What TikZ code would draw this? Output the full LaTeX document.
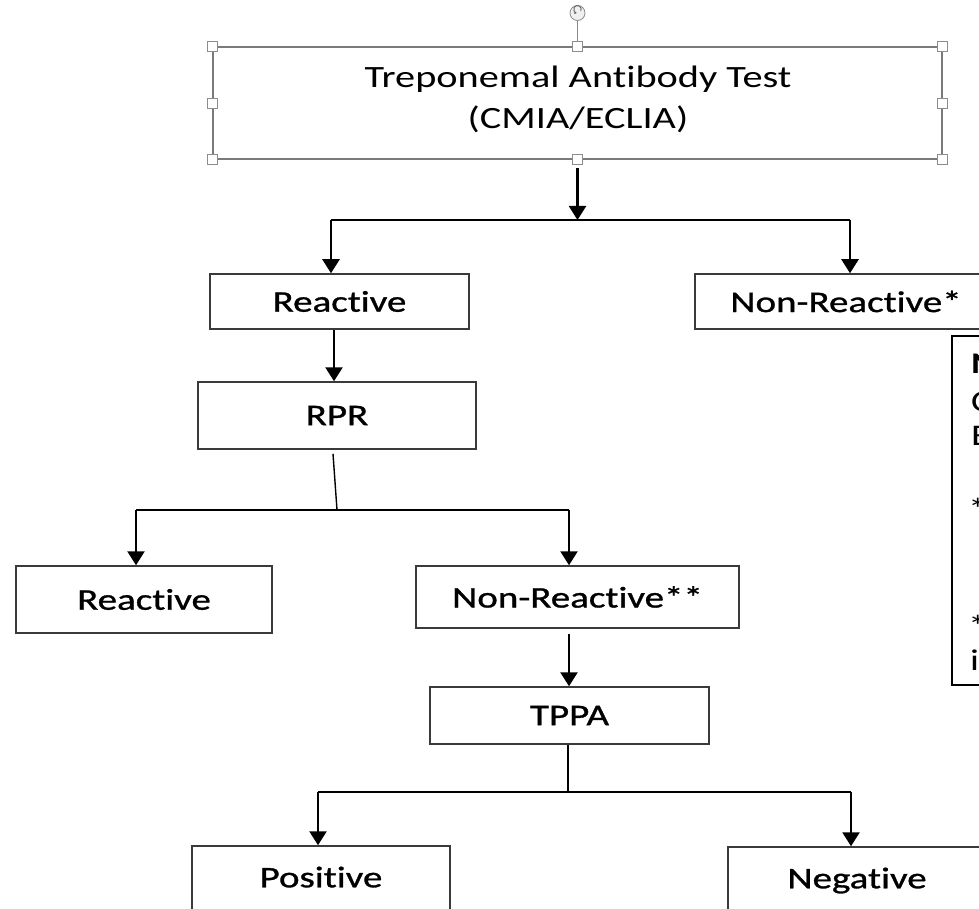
\documentclass[tikz,border=0pt]{standalone}
\usepackage{fontspec}
\setmainfont{Carlito}[FakeStretch=1.3,Ligatures=NoCommon]
\newfontfamily\lblfont{Carlito}[FakeStretch=1.3,FakeBold=1,Ligatures=NoCommon]
\usetikzlibrary{arrows.meta,calc}
\definecolor{boxgray}{HTML}{3A3A3A}
\definecolor{titlegray}{HTML}{7A7A7A}
\definecolor{handlegray}{HTML}{8C8C8C}
\tikzset{
  box/.style={draw=boxgray, line width=1.5pt, fill=white, inner sep=0pt, rectangle,
    font=\lblfont\fontsize{30}{36}\selectfont},
  titlebox/.style={draw=titlegray, line width=1.2pt, inner sep=0pt, rectangle},
  notebox/.style={draw=black, line width=2pt, inner sep=0pt, rectangle},
  notetext/.style={inner sep=0pt, anchor=base west, font=\fontsize{30}{36}\selectfont},
  arr/.style={-{Triangle[width=17pt,length=14pt]}, line width=2.4pt},
  conn/.style={line width=1.4pt},
  handle/.style={draw=handlegray, fill=white, line width=0.8pt, minimum size=10pt, inner sep=0pt, rectangle},
}
\begin{document}
\begin{tikzpicture}[x=1pt,y=-1pt]
\useasboundingbox (0,0) rectangle (979,909);
\clip (0,0) rectangle (979,909);
\fill[white] (0,0) rectangle (979,909);

% title box
\node[titlebox, minimum width=729pt, minimum height=112pt] (title) at (577.5,103) {};
\node[inner sep=0pt, align=center, font=\fontsize{31}{41}\selectfont] (titletext) at (578,99)
  {Treponemal Antibody Test\\(CMIA/ECLIA)};
\foreach \a/\n in {north west/hnw, north/hn, north east/hne, west/hw, east/he, south west/hsw, south/hs, south east/hse}
  \node[handle] (\n) at (title.\a) {};
\node[circle, draw=handlegray, fill=gray!12, line width=0.8pt, minimum size=15pt, inner sep=0pt] (rot) at (577.5,13) {};
\draw[handlegray, line width=0.8pt] (rot.south) -- (hn.north);
\draw[gray!80!black, line width=0.9pt, -{Stealth[length=2.6pt,width=3pt]}] ($(rot.center)+(3.2,-1.8)$) arc[start angle=30, end angle=-260, radius=3.8];

% level 1
\node[box, minimum width=259pt, minimum height=55pt] (r1) at (339.5,301.5) {Reactive};
\node[box, minimum width=302pt, minimum height=55pt] (nr1) at (846,301.5) {Non-Reactive*};
\node[box, minimum width=278pt, minimum height=67pt] (rpr) at (337,415.5) {RPR};

% level 2
\node[box, minimum width=256pt, minimum height=67pt] (r2) at (144,599.5) {Reactive};
\node[box, minimum width=323pt, minimum height=62pt] (nr2) at (577.5,597) {Non-Reactive**};
\node[box, minimum width=279pt, minimum height=57pt] (tppa) at (569.5,715.5) {TPPA};

% level 3
\node[box, minimum width=258pt, minimum height=80pt, text depth=18pt] (pos) at (321,886) {Positive};
\node[box, minimum width=258pt, minimum height=80pt, text depth=18pt] (neg) at (857,887) {Negative};

% notes box (cut at the right edge)
\node[notebox, minimum width=200pt, minimum height=349pt] (notes) at (1052,510.5) {};
\node[notetext, font=\bfseries\fontsize{30}{36}\selectfont] (n1) at (971,373) {N};
\node[notetext] (n2) at (971,411) {C};
\node[notetext] (n3) at (971,445) {E};
\node[notetext] (n4) at (968,519) {*};
\node[notetext] (n5) at (968,636) {*};
\node[notetext] (n6) at (970,670) {i};

% connectors
\coordinate (t0) at (577.5,168);
\coordinate (j1) at (577.5,220);
\coordinate (j1l) at (331,220);
\coordinate (j1r) at (850,220);
\draw[arr] (t0) -- (j1);
\draw[conn] (j1l) -- (j1r);
\draw[arr] (j1l) -- (j1l |- r1.north);
\draw[arr] (j1r) -- (j1r |- nr1.north);
\draw[arr] ([xshift=-5.5pt]r1.south) -- ([xshift=-3pt]rpr.north);

\coordinate (j2) at (337,510);
\coordinate (j2l) at (136,510);
\coordinate (j2r) at (569,510);
\draw[conn] ([shift={(-4,4)}]rpr.south) -- (j2);
\draw[conn] (j2l) -- (j2r);
\draw[arr] (j2l) -- (j2l |- r2.north);
\draw[arr] (j2r) -- (j2r |- nr2.north);
\draw[arr] ([shift={(-8.5,5)}]nr2.south) -- (tppa.north -| 569,0);

\coordinate (j3) at (568,792);
\coordinate (j3l) at (318,792);
\coordinate (j3r) at (851,792);
\draw[conn] ([xshift=-1.5pt]tppa.south) -- (j3);
\draw[conn] (j3l) -- (j3r);
\draw[arr] (j3l) -- (j3l |- pos.north);
\draw[arr] (j3r) -- (j3r |- neg.north);
\end{tikzpicture}
\end{document}
